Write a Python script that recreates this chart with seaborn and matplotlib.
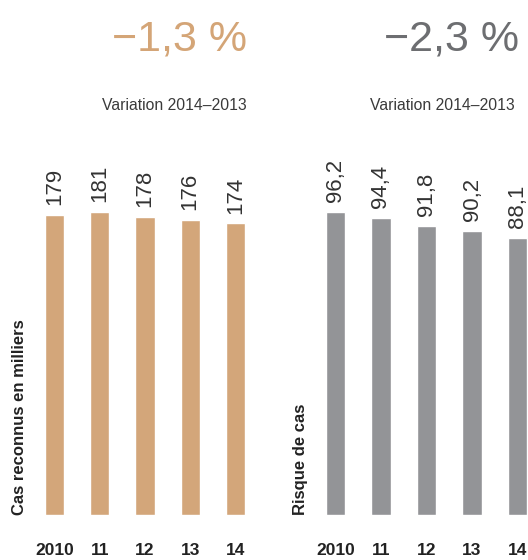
import matplotlib
matplotlib.use("Agg")
import matplotlib.pyplot as plt
import seaborn as sns
import pandas as pd

years = ["2010", "11", "12", "13", "14"]
cases = [179, 181, 178, 176, 174]
risk = [96.2, 94.4, 91.8, 90.2, 88.1]
cases_labels = ["179", "181", "178", "176", "174"]
risk_labels = ["96,2", "94,4", "91,8", "90,2", "88,1"]
headline_left = "\u22121,3 %"
headline_right = "\u22122,3 %"
subtitle = "Variation 2014\u20132013"
ylabel_left = "Cas reconnus en milliers"
ylabel_right = "Risque de cas"

TAN = "#d3a67a"
GRAY = "#939497"
TAN_TXT = "#d4a577"
GRAY_TXT = "#6d6e71"
DARK = "#333333"

sns.set_theme(style="white")
plt.rcParams["font.family"] = ["Liberation Sans", "DejaVu Sans"]

W, H = 528, 560
fig = plt.figure(figsize=(W / 100, H / 100), dpi=100)

def px(x, y):
    return x / W, 1 - y / H

bottom_px, top_px = 515, 150
def add_axes(left_px, right_px):
    return fig.add_axes([left_px / W, 1 - bottom_px / H,
                         (right_px - left_px) / W, (bottom_px - top_px) / H])

ax1 = add_axes(31.9, 258.1)
ax2 = add_axes(312.75, 540.25)

df1 = pd.DataFrame({"year": years, "value": cases})
df2 = pd.DataFrame({"year": years, "value": risk})

sns.barplot(data=df1, x="year", y="value", color=TAN, saturation=1, width=0.42, ax=ax1)
sns.barplot(data=df2, x="year", y="value", color=GRAY, saturation=1, width=0.42, ax=ax2)

ax1.set_ylim(0, 365 / (300 / 179))
ax2.set_ylim(0, 365 / (303 / 96.2))

for ax, labels in ((ax1, cases_labels), (ax2, risk_labels)):
    ax.set_xlim(-0.5, 4.5)
    ax.bar_label(ax.containers[0], labels=labels, rotation=90, padding=7,
                 fontsize=16, color=DARK)
    for s in ax.spines.values():
        s.set_visible(False)
    ax.set_yticks([])
    ax.set_xlabel("")
    ax.set_ylabel("")
    ax.tick_params(axis="x", length=0, pad=20)
    for t in ax.get_xticklabels():
        t.set_fontweight("bold")
        t.set_fontsize(12.5)
        t.set_color("#222222")

fig.text(*px(19.5, 515), ylabel_left, rotation=90, ha="center", va="bottom",
         fontsize=12, fontweight="bold", color="#222222")
fig.text(*px(300, 515), ylabel_right, rotation=90, ha="center", va="bottom",
         fontsize=12, fontweight="bold", color="#222222")

fig.text(*px(180, 50), headline_left, ha="center", va="baseline",
         fontsize=31, color=TAN_TXT)
fig.text(*px(452, 50), headline_right, ha="center", va="baseline",
         fontsize=31, color=GRAY_TXT)

fig.text(*px(174, 110), subtitle, ha="center", va="baseline",
         fontsize=11.3, color="#3a3a3a")
fig.text(*px(442, 110), subtitle, ha="center", va="baseline",
         fontsize=11.3, color="#3a3a3a")

fig.savefig("out.png", dpi=100)
